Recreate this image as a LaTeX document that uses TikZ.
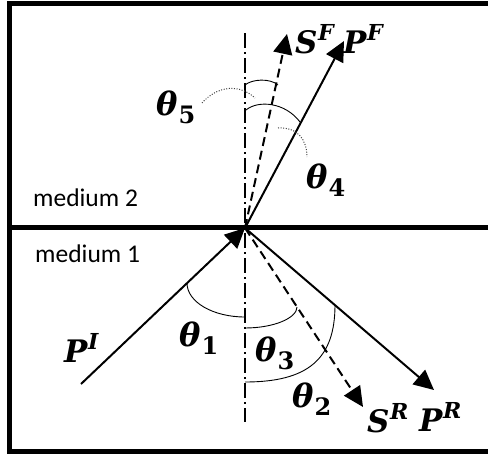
\documentclass[tikz,border=0pt]{standalone}
\usepackage{graphicx}
\usepackage{fontspec}
\newfontfamily\calib{Carlito}
\newfontfamily\lblfont{DejaVu Serif}
\usetikzlibrary{arrows.meta}
\newcommand{\supl}[2]{{\lblfont\bfseries\itshape\fontsize{31}{33}\selectfont #1\kern0.5pt\raisebox{13pt}{\fontsize{22}{24}\selectfont #2}}}
\newcommand{\subl}[1]{{\lblfont\bfseries\itshape\fontsize{32}{34}\selectfont θ\kern1pt\raisebox{-8pt}{\upshape\fontsize{24}{26}\selectfont #1}}}
\begin{document}
\begin{tikzpicture}[x=1pt,y=-1pt,
  ray/.style={line width=2pt,-{Triangle[length=20pt,width=19pt]}},
  sray/.style={ray,dash pattern=on 9pt off 5pt},
  lbl/.style={inner sep=0pt,anchor=base west},
  med/.style={inner sep=0pt,anchor=base west,font=\calib\fontsize{25.5}{30}\selectfont},
  angarc/.style={line width=0.9pt},
  leader/.style={line width=1pt,dash pattern=on 1pt off 1.6pt,black!75},
  normalline/.style={line width=1.3pt,dash pattern=on 15pt off 4pt on 2pt off 4pt},
  frame/.style={line width=5pt}]
\useasboundingbox (0,0) rectangle (488,455);
% frame and interface
\coordinate (FTR) at (488,3.5);
\coordinate (FTL) at (9.5,3.5);
\coordinate (FBL) at (9.5,451);
\coordinate (FBR) at (488,451);
\coordinate (IL) at (9.5,227.5);
\coordinate (IR) at (488,227.5);
\draw[frame] (FTR) -- (FTL) -- (FBL) -- (FBR);
\draw[frame] (IL) -- (IR);
% normal
\coordinate (O) at (245,228);
\coordinate (Ntop) at (245,33);
\coordinate (Nbot) at (245,422);
\draw[normalline] (Ntop) -- (Nbot);
% rays
\coordinate (PIs) at (81,384);
\coordinate (PRe) at (434,390);
\coordinate (SRe) at (363,407);
\coordinate (PFe) at (344,41);
\coordinate (SFe) at (287,34);
\draw[ray] (PIs) -- (O);
\draw[ray] (O) -- (PRe);
\draw[sray] (O) -- (SRe);
\draw[ray] (O) -- (PFe);
\draw[sray] (O) -- (SFe);
% angle arcs
\coordinate (a5s) at (245,85);  \coordinate (a5e) at (278,85);
\coordinate (a4s) at (246,110); \coordinate (a4e) at (300,122);
\coordinate (a1s) at (187,283); \coordinate (a1e) at (245,317);
\coordinate (a3s) at (245,328); \coordinate (a3e) at (297,307);
\coordinate (a2s) at (245,382); \coordinate (a2e) at (335,305);
\draw[angarc] (a5s) .. controls (252,79) and (270,78) .. (a5e);
\draw[angarc] (a4s) .. controls (258,100) and (285,102) .. (a4e);
\draw[angarc] (a1s) .. controls (187,302) and (213,317) .. (a1e);
\draw[angarc] (a3s) .. controls (274,328) and (297,318) .. (a3e);
\draw[angarc] (a2s) .. controls (308,382) and (335,359) .. (a2e);
% leaders
\coordinate (l5s) at (202,103); \coordinate (l5e) at (255,98);
\coordinate (l4s) at (278,128); \coordinate (l4e) at (307,157);
\draw[leader] (l5s) .. controls (218,85) and (240,84) .. (l5e);
\draw[leader] (l4s) .. controls (298,127) and (307,140) .. (l4e);
% labels
\node[lbl] (tSF) at (295,53) {\supl{S}{F}};
\node[lbl] (tPF) at (343,53) {\supl{P}{F}};
\node[lbl] (t5) at (156,115) {\subl{5}};
\node[lbl] (t4) at (306,188) {\subl{4}};
\node[lbl] (tPI) at (64,362) {\supl{P}{I}};
\node[lbl] (t1) at (179,346) {\subl{1}};
\node[lbl] (t3) at (255,361) {\subl{3}};
\node[lbl] (t2) at (292,407) {\subl{2}};
\node[lbl] (tSR) at (367,432) {\supl{S}{R}};
\node[lbl] (tPR) at (419,431) {\supl{P}{R}};
\node[med] (m2) at (33,206) {medium 2};
\node[med] (m1) at (35,262) {medium 1};
\end{tikzpicture}
\end{document}
